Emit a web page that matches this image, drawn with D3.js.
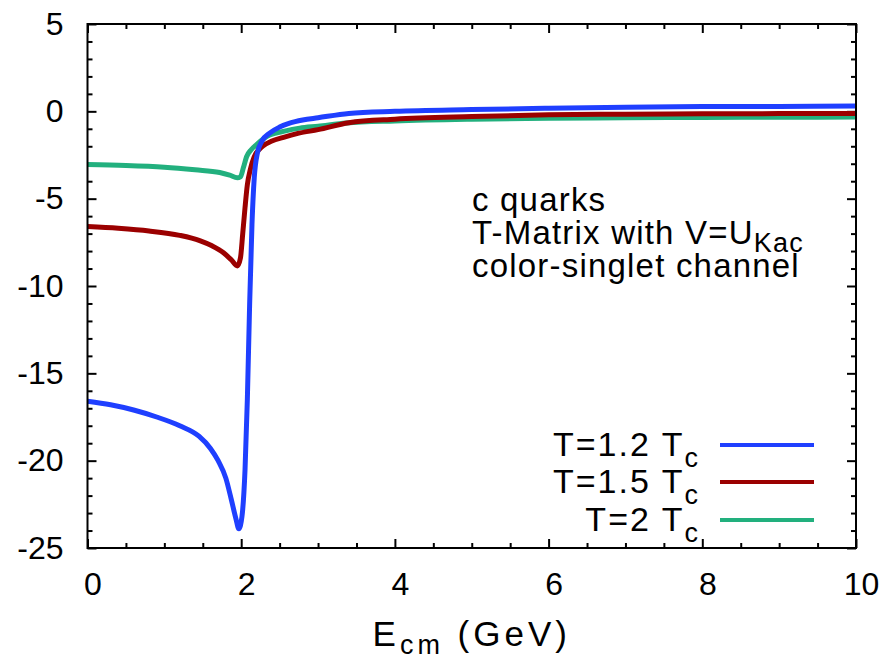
<!DOCTYPE html>
<html><head><meta charset="utf-8">
<script src="https://cdn.jsdelivr.net/npm/d3@7"></script>
<style>
html,body{margin:0;padding:0;background:#fff;}
svg{display:block;font-family:"Liberation Sans",Arial,Helvetica,sans-serif;}
</style></head>
<body>
<svg id="chart" width="884" height="664"></svg>
<script>
// ---- data (E_cm in GeV, value) ----
const seriesNames = ["T=1.2 T", "T=1.5 T", "T=2 T"];
const seriesColors = ["#1f3fff", "#9b0000", "#22b07e"];
const t12 = [[0,-16.6],[0.3,-16.8],[0.6,-17.1],[0.9,-17.5],[1.2,-18.0],[1.45,-18.6],[1.6,-19.3],[1.7,-20.0],[1.8,-21.0],[1.87,-22.2],[1.93,-23.3],[1.97,-23.9],[2.01,-23.2],[2.05,-20.5],[2.08,-16.5],[2.11,-11.0],[2.14,-6.5],[2.17,-3.8],[2.21,-2.4],[2.27,-1.7],[2.37,-1.25],[2.5,-0.9],[2.63,-0.68],[2.8,-0.5],[3.0,-0.37],[3.4,-0.12],[4,0.0],[5,0.1],[6,0.18],[7,0.24],[8,0.27],[9,0.28],[10,0.3]];
const t15 = [[0,-6.6],[0.4,-6.7],[0.8,-6.85],[1.2,-7.1],[1.46,-7.4],[1.62,-7.7],[1.77,-8.1],[1.87,-8.5],[1.95,-8.85],[1.99,-8.4],[2.02,-7.0],[2.05,-5.5],[2.08,-4.2],[2.12,-3.3],[2.17,-2.6],[2.28,-2.0],[2.4,-1.7],[2.54,-1.5],[2.75,-1.25],[3.0,-1.05],[3.4,-0.65],[4,-0.45],[5,-0.3],[6,-0.2],[7,-0.16],[8,-0.14],[9,-0.13],[10,-0.12]];
const t20 = [[0,-3.05],[0.5,-3.1],[1.0,-3.2],[1.4,-3.35],[1.72,-3.5],[1.85,-3.65],[1.95,-3.8],[1.99,-3.75],[2.03,-3.2],[2.07,-2.6],[2.13,-2.2],[2.2,-1.9],[2.37,-1.36],[2.55,-1.15],[2.76,-0.96],[3.0,-0.85],[3.37,-0.67],[4,-0.55],[5,-0.45],[6,-0.4],[7,-0.37],[8,-0.35],[9,-0.34],[10,-0.33]];
const seriesData = [t12, t15, t20];
const xTicks = [0,2,4,6,8,10];
const xMinor = [0.5,1,1.5,2.5,3,3.5,4.5,5,5.5,6.5,7,7.5,8.5,9,9.5];
const yTicks = [-25,-20,-15,-10,-5,0,5];
const yMinor = [-24,-23,-22,-21,-19,-18,-17,-16,-14,-13,-12,-11,-9,-8,-7,-6,-4,-3,-2,-1,1,2,3,4];
const annotation = ["c quarks", "T-Matrix with V=U", "color-singlet channel"];

// ---- layout ----
const L = 87.5, R = 856, T = 24, B = 548;
const x = d3.scaleLinear().domain([0,10]).range([L,R]);
const y = d3.scaleLinear().domain([-25,5]).range([B,T]);
const svg = d3.select("#chart");
const fs = 32;
const fmt = d => String(d);

function styleAxis(g){
  g.select(".domain").remove();
  g.selectAll(".tick line").attr("stroke","#000").attr("stroke-width",2);
  g.selectAll("text").attr("font-size",fs).attr("fill","#000").attr("font-family","Liberation Sans, Arial, sans-serif");
}
// bottom
svg.append("g").attr("transform",`translate(0,${B})`)
  .call(d3.axisBottom(x).tickValues(xTicks).tickSize(-9).tickPadding(24).tickFormat(fmt))
  .call(styleAxis).selectAll("text").attr("dx",5);
svg.append("g").attr("transform",`translate(0,${B})`)
  .call(d3.axisBottom(x).tickValues(xMinor).tickSize(-5).tickFormat("")).call(styleAxis);
// top
svg.append("g").attr("transform",`translate(0,${T})`)
  .call(d3.axisTop(x).tickValues(xTicks).tickSize(-9).tickFormat("")).call(styleAxis);
svg.append("g").attr("transform",`translate(0,${T})`)
  .call(d3.axisTop(x).tickValues(xMinor).tickSize(-5).tickFormat("")).call(styleAxis);
// left
svg.append("g").attr("transform",`translate(${L},0)`)
  .call(d3.axisLeft(y).tickValues(yTicks).tickSize(-9).tickPadding(24).tickFormat(fmt))
  .call(styleAxis);
svg.append("g").attr("transform",`translate(${L},0)`)
  .call(d3.axisLeft(y).tickValues(yMinor).tickSize(-5).tickFormat("")).call(styleAxis);
// right
svg.append("g").attr("transform",`translate(${R},0)`)
  .call(d3.axisRight(y).tickValues(yTicks).tickSize(-9).tickFormat("")).call(styleAxis);
svg.append("g").attr("transform",`translate(${R},0)`)
  .call(d3.axisRight(y).tickValues(yMinor).tickSize(-5).tickFormat("")).call(styleAxis);

// curves
const line = d3.line().x(d=>x(d[0])).y(d=>y(d[1])).curve(d3.curveMonotoneX);
svg.append("defs").append("clipPath").attr("id","clip")
  .append("rect").attr("x",L).attr("y",T).attr("width",R-L).attr("height",B-T);
const curves = svg.append("g").attr("clip-path","url(#clip)");
[2,1,0].forEach(i=>{
  curves.append("path").datum(seriesData[i]).attr("d",line)
    .attr("fill","none").attr("stroke",seriesColors[i]).attr("stroke-width",5)
    .attr("stroke-linejoin","round");
});

// frame
svg.append("rect").attr("x",L).attr("y",T).attr("width",R-L).attr("height",B-T)
  .attr("fill","none").attr("stroke","#000").attr("stroke-width",2);

// x axis title
const xt = svg.append("text").attr("x",(L+R)/2).attr("y",646).attr("text-anchor","middle")
  .attr("font-size",35).attr("letter-spacing",4).attr("fill","#000");
xt.append("tspan").text("E");
xt.append("tspan").attr("font-size",27).attr("dy",8).text("cm");
xt.append("tspan").attr("dy",-8).text(" (GeV)");

// annotation
const ann = svg.append("g").attr("font-size",33).attr("letter-spacing",1.2).attr("fill","#000");
ann.append("text").attr("x",472).attr("y",211).text(annotation[0]);
const a2 = ann.append("text").attr("x",472).attr("y",244);
a2.append("tspan").text(annotation[1]);
a2.append("tspan").attr("font-size",27).attr("dy",8).text("Kac");
ann.append("text").attr("x",472).attr("y",277).text(annotation[2]);

// legend
const legY = [445, 482, 520];
seriesNames.forEach((n,i)=>{
  const t = svg.append("text").attr("x",700).attr("y",legY[i]+11).attr("text-anchor","end")
    .attr("font-size",34).attr("letter-spacing",2).attr("fill","#000");
  t.append("tspan").text(n);
  t.append("tspan").attr("font-size",27).attr("dy",11).text("c");
  svg.append("line").attr("x1",720).attr("x2",814).attr("y1",legY[i]).attr("y2",legY[i])
    .attr("stroke",seriesColors[i]).attr("stroke-width",4);
});
</script>
</body></html>
